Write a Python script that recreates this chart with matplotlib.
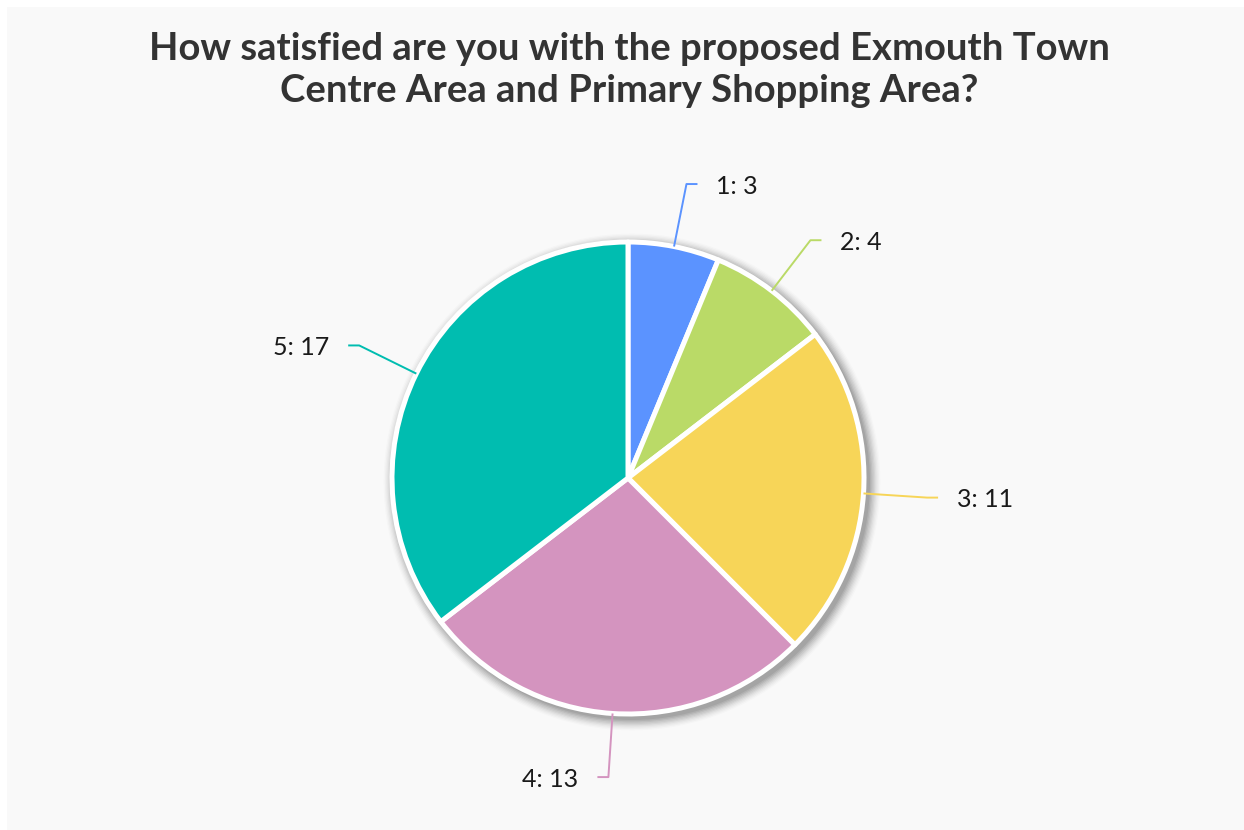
import numpy as np
import matplotlib
matplotlib.use("Agg")
import matplotlib.pyplot as plt
from matplotlib.patches import Rectangle, Circle

title = "How satisfied are you with the proposed Exmouth Town\nCentre Area and Primary Shopping Area?"
categories = ["1", "2", "3", "4", "5"]
values = [3, 4, 11, 13, 17]
colors = ["#5B93FF", "#BADA67", "#F7D558", "#D494BF", "#00BDB0"]

W, H = 1244, 830
fig = plt.figure(figsize=(W / 100, H / 100), dpi=100)
fig.patch.set_facecolor("white")
ax = fig.add_axes([0, 0, 1, 1])

# panel background
ax.add_patch(Rectangle((7, 0), W - 7, H - 7, facecolor="#F9F9F9", edgecolor="none", zorder=0))

cx, cy, R = 628, H - 478, 236

# soft shadow
for i, a in enumerate(np.linspace(0.07, 0.015, 9)):
    ax.add_patch(Circle((cx + 4, cy - 4), R + 2 + i * 1.3, facecolor="#000000", alpha=a,
                        edgecolor="none", zorder=1))

wedges, _ = ax.pie(values, colors=colors, startangle=90, counterclock=False,
                   center=(cx, cy), radius=R,
                   wedgeprops=dict(edgecolor="white", linewidth=3.6, joinstyle="round"))
for w in wedges:
    w.set_zorder(2)

ax.set_xlim(0, W)
ax.set_ylim(0, H)
ax.set_aspect("equal")
ax.axis("off")

total = sum(values)
cum = 0
for cat, v, c in zip(categories, values, colors):
    mid = 90 - (cum + v / 2) / total * 360
    cum += v
    t = np.deg2rad(mid)
    x0, y0 = cx + R * np.cos(t), cy + R * np.sin(t)
    r2 = R * 1.27
    x1, y1 = cx + r2 * np.cos(t), cy + r2 * np.sin(t)
    side = 1 if np.cos(t) >= 0 else -1
    x2 = x1 + side * 11
    ax.plot([x0, x1, x2], [y0, y1, y1], color=c, lw=1.4, zorder=3, solid_capstyle="butt")
    ax.text(x2 + side * 19, y1 - 2, f"{cat}: {v}", ha="left" if side > 0 else "right",
            va="center", fontsize=18, color="#1a1a1a", family=["Lato", "DejaVu Sans"])

ax.text(629, H - 70, title, ha="center", va="center", fontsize=27.5, fontweight="bold",
        color="#333333", family=["Lato", "DejaVu Sans"], linespacing=1.3)

fig.savefig("out.png", dpi=100, facecolor="white")
